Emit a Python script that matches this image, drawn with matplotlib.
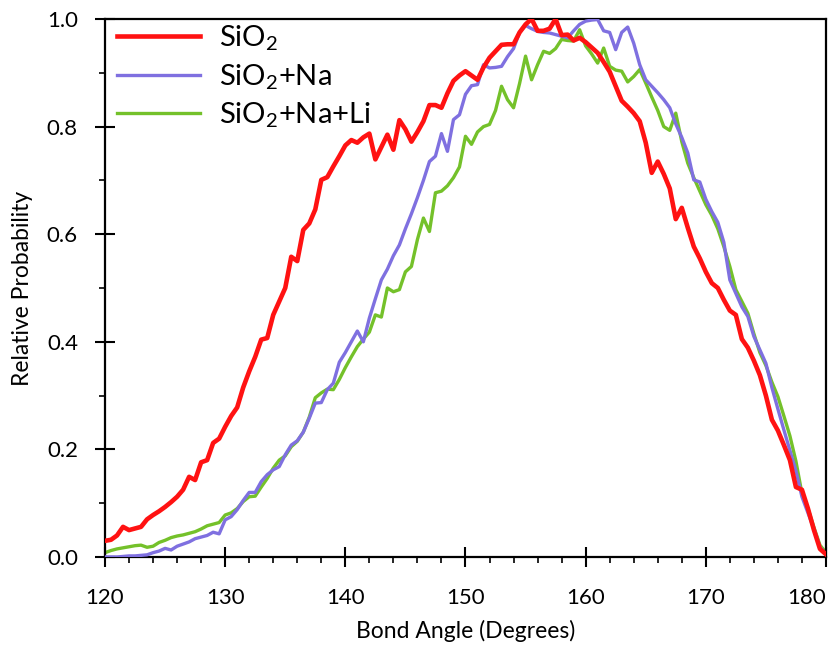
import numpy as np
import matplotlib
matplotlib.use("Agg")
import matplotlib.pyplot as plt
from matplotlib.ticker import MultipleLocator, FormatStrFormatter

# bond angle grid (degrees), 0.5 deg bins
angle = np.arange(120.0, 180.01, 0.5)

sio2 = [
    0.030, 0.032, 0.040, 0.056, 0.050, 0.053, 0.056, 0.070, 0.078, 0.085,
    0.093, 0.102, 0.112, 0.125, 0.149, 0.143, 0.176, 0.180, 0.212, 0.220,
    0.242, 0.262, 0.278, 0.315, 0.345, 0.372, 0.404, 0.407, 0.450, 0.475,
    0.500, 0.558, 0.550, 0.608, 0.620, 0.646, 0.701, 0.706, 0.726, 0.745,
    0.765, 0.775, 0.770, 0.780, 0.787, 0.739, 0.762, 0.785, 0.757, 0.812,
    0.795, 0.772, 0.790, 0.810, 0.840, 0.840, 0.835, 0.862, 0.885, 0.895,
    0.903, 0.895, 0.887, 0.910, 0.928, 0.940, 0.952, 0.953, 0.953, 0.975,
    0.990, 1.000, 0.978, 0.978, 0.982, 1.000, 0.970, 0.971, 0.960, 0.965,
    0.957, 0.947, 0.937, 0.920, 0.902, 0.875, 0.848, 0.837, 0.825, 0.810,
    0.770, 0.714, 0.735, 0.712, 0.685, 0.628, 0.649, 0.612, 0.577, 0.555,
    0.530, 0.509, 0.500, 0.478, 0.458, 0.450, 0.405, 0.389, 0.365, 0.338,
    0.300, 0.255, 0.235, 0.208, 0.180, 0.130, 0.125, 0.090, 0.050, 0.015,
    0.005,
]

sio2_na = [
    0.000, 0.000, 0.000, 0.001, 0.002, 0.002, 0.003, 0.004, 0.008, 0.011,
    0.016, 0.013, 0.020, 0.024, 0.028, 0.034, 0.037, 0.040, 0.046, 0.043,
    0.069, 0.075, 0.088, 0.105, 0.120, 0.120, 0.140, 0.153, 0.162, 0.168,
    0.190, 0.208, 0.216, 0.232, 0.258, 0.286, 0.287, 0.311, 0.323, 0.362,
    0.380, 0.400, 0.420, 0.400, 0.444, 0.480, 0.515, 0.535, 0.560, 0.580,
    0.610, 0.638, 0.668, 0.700, 0.735, 0.745, 0.787, 0.754, 0.813, 0.822,
    0.860, 0.876, 0.878, 0.915, 0.909, 0.910, 0.912, 0.930, 0.945, 0.975,
    0.988, 0.982, 0.977, 0.975, 0.974, 0.971, 0.968, 0.965, 0.978, 0.990,
    0.996, 0.998, 0.999, 0.978, 0.975, 0.943, 0.975, 0.985, 0.955, 0.915,
    0.887, 0.875, 0.863, 0.850, 0.835, 0.805, 0.780, 0.751, 0.701, 0.697,
    0.665, 0.642, 0.622, 0.585, 0.515, 0.490, 0.465, 0.447, 0.410, 0.385,
    0.360, 0.315, 0.275, 0.236, 0.198, 0.160, 0.112, 0.082, 0.052, 0.018,
    0.005,
]

sio2_na_li = [
    0.008, 0.012, 0.015, 0.017, 0.019, 0.021, 0.022, 0.018, 0.020, 0.027,
    0.031, 0.036, 0.039, 0.041, 0.044, 0.047, 0.052, 0.058, 0.061, 0.064,
    0.078, 0.082, 0.090, 0.103, 0.112, 0.113, 0.130, 0.146, 0.165, 0.180,
    0.188, 0.205, 0.215, 0.232, 0.260, 0.296, 0.305, 0.312, 0.311, 0.330,
    0.352, 0.372, 0.391, 0.405, 0.418, 0.450, 0.446, 0.500, 0.493, 0.497,
    0.530, 0.540, 0.590, 0.630, 0.605, 0.677, 0.680, 0.690, 0.705, 0.725,
    0.782, 0.767, 0.790, 0.800, 0.804, 0.830, 0.875, 0.850, 0.835, 0.880,
    0.931, 0.887, 0.915, 0.940, 0.936, 0.945, 0.962, 0.960, 0.959, 0.980,
    0.950, 0.935, 0.918, 0.946, 0.912, 0.905, 0.903, 0.883, 0.893, 0.906,
    0.881, 0.855, 0.830, 0.800, 0.793, 0.825, 0.772, 0.732, 0.705, 0.680,
    0.655, 0.635, 0.610, 0.577, 0.540, 0.497, 0.475, 0.453, 0.415, 0.380,
    0.356, 0.325, 0.298, 0.262, 0.225, 0.178, 0.118, 0.090, 0.055, 0.022,
    0.008,
]

labels = ["SiO$_2$", "SiO$_2$+Na", "SiO$_2$+Na+Li"]
xticks = [120, 130, 140, 150, 160, 170, 180]
yticks = [0.0, 0.2, 0.4, 0.6, 0.8, 1.0]

plt.rcParams["font.family"] = ["Lato", "DejaVu Sans"]
plt.rcParams["mathtext.fontset"] = "custom"
plt.rcParams["mathtext.rm"] = "Lato"

fig = plt.figure(figsize=(8.36, 6.46), dpi=100)
ax = fig.add_axes([0.1256, 0.1378, 0.8624, 0.8328])

# draw order: green under blue under red
l3, = ax.plot(angle, sio2_na_li, color="#74c12a", lw=2.4, zorder=2)
l2, = ax.plot(angle, sio2_na, color="#7f70e0", lw=2.4, zorder=3)
l1, = ax.plot(angle, sio2, color="#ff1212", lw=3.3, zorder=4)

ax.set_xlim(120, 180)
ax.set_ylim(0, 1.0)
ax.set_xticks(xticks)
ax.set_yticks(yticks)
ax.xaxis.set_minor_locator(MultipleLocator(2))
ax.yaxis.set_minor_locator(MultipleLocator(0.1))
ax.yaxis.set_major_formatter(FormatStrFormatter("%.1f"))

ax.tick_params(which="major", direction="inout", length=14, width=1.5,
               labelsize=16)
ax.tick_params(which="minor", direction="out", length=4, width=1.2)
ax.tick_params(axis="x", which="major", pad=15.5)
ax.tick_params(axis="y", which="major", pad=12.5)
for s in ax.spines.values():
    s.set_linewidth(1.6)

ax.set_xlabel("Bond Angle (Degrees)", fontsize=16.5, labelpad=8.5)
ax.set_ylabel("Relative Probability", fontsize=16.5, labelpad=10)

ax.legend([l1, l2, l3], labels, loc="upper left",
          bbox_to_anchor=(0.011, 1.0), frameon=False,
          fontsize=21, handlelength=2.85, handletextpad=0.62,
          labelspacing=0.3, borderaxespad=0.0, borderpad=0.15)

# last tick label would run past the right edge
ax.xaxis.get_major_ticks()[-1].label1.set_horizontalalignment("right")

fig.savefig("out.png", dpi=100)
